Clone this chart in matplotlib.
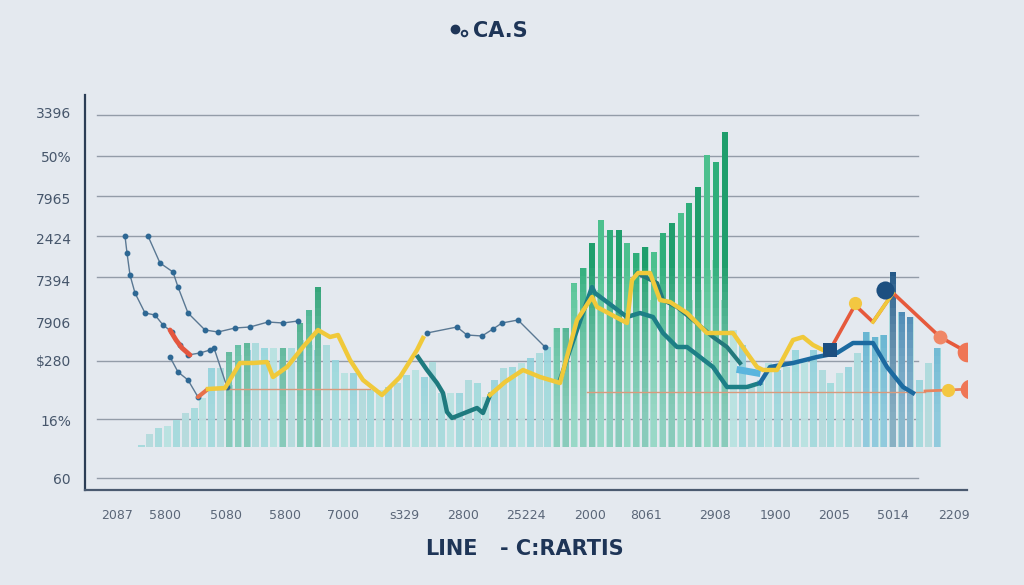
import numpy as np
import matplotlib.pyplot as plt
from matplotlib.lines import Line2D

bar_base = 43
bar_x = np.linspace(56, 852, 91)

# light back bars (top of each bar)
back_tops = [45, 56, 62, 64, 70, 77, 82, 92, 122, 122,
             105, 135, 140, 147, 142, 142, 130, 142, 150, 145,
             140, 145, 130, 117, 117, 100, 100, 100, 103, 107,
             115, 120, 113, 128, 97, 97, 97, 110, 107, 93,
             110, 122, 123, 127, 132, 137, 143, 162, 162, 190,
             222, 200, 200, 190, 190, 180, 237, 243, 190, 250,
             180, 185, 190, 200, 220, 230, 190, 160, 145, 103,
             110, 127, 120, 123, 140, 130, 140, 120, 107, 117,
             123, 137, 158, 153, 155, 190, 178, 173, 110, 127, 142]

# saturated front bars (None = no front bar)
front_tops = [None] * 91
front_vals = {10: 138, 11: 145, 12: 147, 16: 142, 18: 167, 19: 180, 20: 203,
              47: 162, 48: 162, 49: 207, 50: 222, 51: 247, 52: 270, 53: 260,
              54: 260, 55: 247, 56: 237, 57: 243, 58: 238, 59: 257, 60: 267,
              61: 277, 62: 287, 63: 303, 64: 335, 65: 328, 66: 358,
              82: 158, 83: 153, 84: 155, 85: 218, 86: 178, 87: 173, 90: 142}
for k, v in front_vals.items():
    front_tops[k] = v

# lines
dot_a_x = [40, 42, 45, 50, 60, 70, 78, 87, 95, 103, 115, 125, 129, 142]
dot_a_y = [254, 237, 215, 197, 177, 175, 165, 158, 145, 135, 137, 140, 142, 103]
red_a_x = [85, 91, 97, 105]
red_a_y = [160, 150, 142, 135]
dot_b_x = [63, 75, 88, 93, 103, 120, 133, 150, 165, 183, 198, 213]
dot_b_y = [254, 227, 218, 203, 177, 160, 158, 162, 163, 168, 167, 169]
dot_c_x = [342, 372, 382, 397, 408, 417, 433, 460]
dot_c_y = [157, 163, 155, 154, 161, 167, 170, 143]
dot_d_x = [85, 93, 103, 113]
dot_d_y = [133, 118, 110, 93]

yellow_x = [123, 140, 155, 168, 182, 188, 202, 218, 233, 245, 253, 265, 278, 297, 315, 332, 338]
yellow_y = [101, 102, 127, 127, 128, 113, 123, 143, 160, 153, 155, 130, 110, 95, 113, 140, 152]
yellow2_x = [405, 420, 438, 455, 475, 483, 492, 507, 512, 542, 547, 553, 565, 575, 585,
             602, 622, 638, 648, 662, 672, 678, 692, 708, 718, 728, 738]
yellow2_y = [95, 108, 120, 113, 107, 137, 170, 193, 183, 167, 210, 217, 217, 190, 188,
             177, 157, 157, 157, 137, 123, 120, 120, 150, 153, 145, 140]
teal_s_x = [333, 342, 352, 358, 362, 367, 392, 398, 405]
teal_s_y = [133, 120, 107, 97, 78, 72, 82, 77, 95]
teal_x = [475, 485, 507, 510, 542, 555, 568, 578, 592, 602, 615, 628, 642, 662, 675]
teal_y = [110, 140, 203, 197, 173, 177, 173, 157, 143, 143, 133, 123, 103, 103, 107]
blue_x = [675, 685, 708, 732, 752, 768, 788, 802, 818, 828]
blue_y = [107, 123, 127, 133, 137, 147, 147, 123, 103, 97]
teal_up_x = [552, 572, 578, 592, 608, 628, 642, 655]
teal_up_y = [217, 207, 190, 183, 170, 153, 143, 127]
light_blue_x = [655, 672]
light_blue_y = [120, 117]
red_x = [745, 770, 788, 808, 855, 882]
red_y = [140, 185, 168, 197, 153, 138]
orange_x = [840, 863, 885]
orange_y = [99, 100, 101]

# gridlines and ticks
grid_y = [375, 334, 294, 254, 213, 129, 71, 12]
ytick_pos = [377, 334, 292, 252, 210, 167, 129, 70, 12]
ytick_labels = ["3396", "50%", "7965", "2424", "7394", "7906", "\\$280", "16%", "60"]
xtick_pos = [32, 80, 141, 200, 258, 319, 378, 441, 505, 561, 630, 691, 749, 808, 869]
xtick_labels = ["2087", "5800", "5080", "5800", "7000", "s329", "2800", "25224",
                "2000", "8061", "2908", "1900", "2005", "5014", "2209"]

# === Figure ===

bg = "#e4e9ef"
fig = plt.figure(figsize=(10.24, 5.85), dpi=100, facecolor=bg)
ax = fig.add_axes([85 / 1024, 95 / 585, 882 / 1024, 395 / 585])
ax.set_facecolor("none")
ax.set_xlim(0, 882)
ax.set_ylim(0, 395)

for gy in grid_y:
    ax.plot([12, 833], [gy, gy], color="#939ca8", lw=1.0, zorder=1)

# back bars
back_cols = ["#5dbfcc", "#92d7da", "#6cc7d3", "#a9e1df"]
for i, (x, t) in enumerate(zip(bar_x, back_tops)):
    c = back_cols[i % 4]
    if 47 <= i <= 66:
        c = ["#7fd3b2", "#a5e2c8"][i % 2]
    ax.bar(x, t - bar_base, width=7, bottom=bar_base, color=c, alpha=0.85,
           lw=0, zorder=2)

# front bars
for i, (x, t) in enumerate(zip(bar_x, front_tops)):
    if t is None:
        continue
    if i < 30:
        c = "#1e9a68" if i % 2 == 0 else "#2aa77a"
    elif i < 70:
        c = ["#1f9e6c", "#4cc08e", "#2fae7a"][i % 3]
    elif i == 85:
        c = "#1d5283"
    elif i in (86, 87):
        c = "#2469a3"
    else:
        c = "#3399c9"
    ax.bar(x, t - bar_base, width=6, bottom=bar_base, color=c, lw=0, zorder=3)

# pale wash fading upward over the bars (stacked thin layers)
tops = np.array([max(t, f or 0) for t, f in zip(back_tops, front_tops)])
for level in np.arange(70, 230, 8):
    h = np.clip(np.minimum(tops, level) - bar_base, 0, None)
    ax.bar(bar_x, h, width=7, bottom=bar_base, color="#cdeef0",
           alpha=0.05, lw=0, zorder=4)

# thin accent lines
ax.plot([120, 285], [101, 101], color="#d99a7c", lw=1.0, zorder=4)
ax.plot([502, 840], [98, 98], color="#d99a7c", lw=1.0, zorder=4)

# dotted marker lines
dkw = dict(color="#5a7893", lw=1.0, marker="o", ms=3.2, mfc="#2e6894",
           mec="#2e6894", zorder=5)
ax.plot(dot_a_x, dot_a_y, **dkw)
ax.plot(dot_b_x, dot_b_y, **dkw)
ax.plot(dot_c_x, dot_c_y, **dkw)
ax.plot(dot_d_x, dot_d_y, **dkw)
ax.plot(red_a_x, red_a_y, color="#e4573f", lw=3.5, solid_capstyle="round", zorder=6)
ax.plot([113, 123], [93, 101], color="#e8704a", lw=3.0, solid_capstyle="round", zorder=6)

# main lines
ax.plot(teal_x, teal_y, color="#1d7f86", lw=3.2, zorder=6)
ax.plot(blue_x, blue_y, color="#1c6aa0", lw=3.2, zorder=6)
ax.plot(teal_up_x, teal_up_y, color="#23787c", lw=3.0, zorder=6)
ax.plot(light_blue_x, light_blue_y, color="#5ab5de", lw=5, zorder=6)
ax.plot(yellow_x, yellow_y, color="#f0c93a", lw=3.2, zorder=7)
ax.plot(teal_s_x, teal_s_y, color="#1e7a7e", lw=3.2, zorder=7)
ax.plot(yellow2_x, yellow2_y, color="#f0c93a", lw=3.2, zorder=7)
ax.plot(red_x, red_y, color="#e65a3c", lw=2.6, zorder=7)
ax.plot(red_x[2:4], red_y[2:4], color="#f0c93a", lw=2.6, zorder=8)
ax.plot(orange_x, orange_y, color="#e8845e", lw=2.0, zorder=7)

# markers on the lines
ax.scatter([770], [187], s=90, color="#f3c741", zorder=9, lw=0)
ax.scatter([855], [153], s=100, color="#f08766", zorder=9, lw=0)
ax.scatter([882], [138], s=200, color="#ef7656", zorder=9, lw=0)
ax.scatter([863], [100], s=90, color="#f3c741", zorder=9, lw=0)
ax.scatter([885], [101], s=200, color="#ef7656", zorder=9, lw=0)
ax.scatter([800], [200], s=170, color="#1c4f80", zorder=9, lw=0)
ax.scatter([745], [140], s=90, marker="s", color="#1c4f80", zorder=9, lw=0)

# axes styling
for s in ["top", "right"]:
    ax.spines[s].set_visible(False)
ax.spines["left"].set_color("#2b3d55")
ax.spines["left"].set_linewidth(1.6)
ax.spines["bottom"].set_color("#4a5a70")
ax.spines["bottom"].set_linewidth(1.6)
ax.set_yticks(ytick_pos)
ax.set_yticklabels(ytick_labels, fontsize=10, color="#46566b")
ax.set_xticks(xtick_pos)
ax.set_xticklabels(xtick_labels, fontsize=9, color="#5a6678")
ax.tick_params(length=0)
ax.tick_params(axis="y", pad=10)
ax.tick_params(axis="x", pad=14)

# title and bottom caption
fig.add_artist(Line2D([455 / 1024], [1 - 29 / 585], marker="o", ms=6,
                      color="#1e3557", transform=fig.transFigure))
fig.add_artist(Line2D([464 / 1024], [1 - 33 / 585], marker="o", ms=4, mfc="none",
                      mew=1.4, color="#1e3557", transform=fig.transFigure))
fig.text(473 / 1024, 1 - 31 / 585, "CA.S", fontsize=15, fontweight="bold",
         color="#1e3557", va="center", ha="left")
fig.text(425 / 1024, 1 - 549 / 585, "LINE", fontsize=15, fontweight="bold",
         color="#1e3557", va="center", ha="left")
fig.text(500 / 1024, 1 - 549 / 585, "- C:RARTIS", fontsize=15, fontweight="bold",
         color="#1e3557", va="center", ha="left")

plt.savefig("out.png", dpi=100, facecolor=bg)
